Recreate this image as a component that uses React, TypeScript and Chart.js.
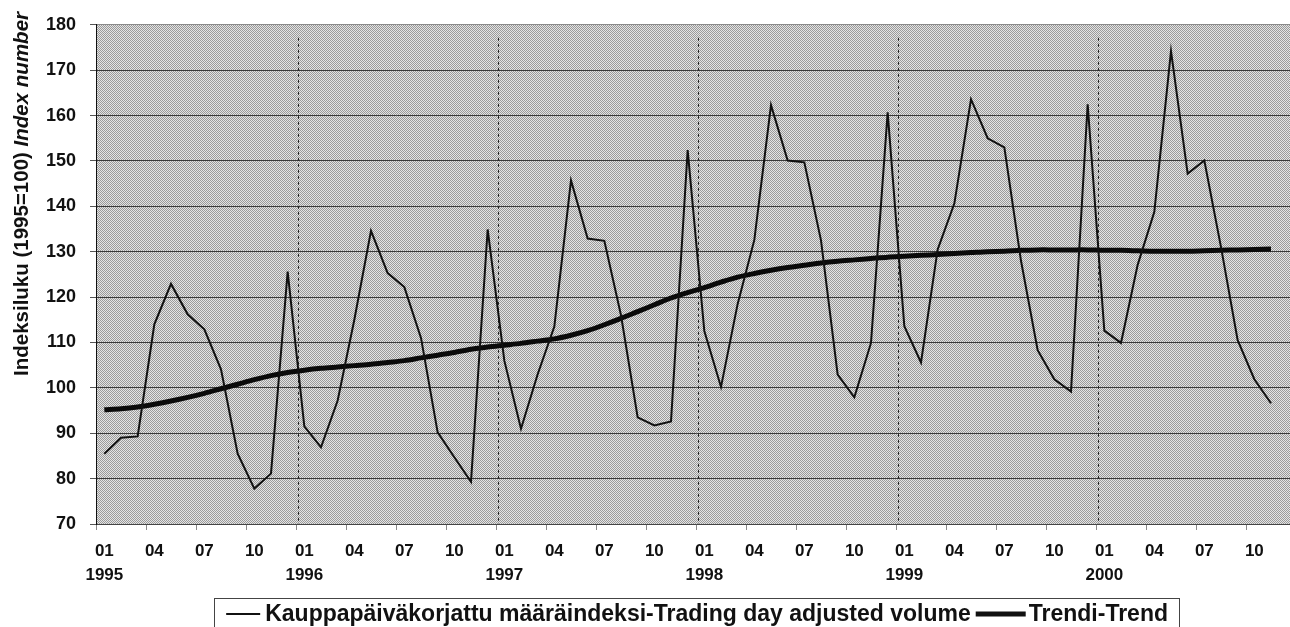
import React, { useEffect, useRef } from 'react';
import { Chart, registerables } from 'chart.js';

Chart.register(...registerables);

const yearLabels = ['1995', '1996', '1997', '1998', '1999', '2000'];
const monthLabels = ['01', '02', '03', '04', '05', '06', '07', '08', '09', '10', '11', '12'];

const volumeIndex = [
  85.5, 89.0, 89.3, 114.0, 122.9, 116.2, 112.9, 104.1, 85.5, 77.8, 81.1, 125.6,
  91.5, 86.9, 97.2, 115.0, 134.6, 125.3, 122.2, 111.0, 90.2, 84.7, 79.3, 134.9,
  106.0, 91.0, 103.0, 113.5, 145.7, 132.9, 132.4, 116.0, 93.5, 91.7, 92.6, 152.4,
  112.5, 100.2, 118.5, 132.6, 162.3, 150.1, 149.7, 132.5, 102.9, 97.9, 109.9, 160.7,
  113.6, 105.6, 130.5, 140.6, 163.6, 155.0, 153.0, 128.0, 108.3, 101.9, 99.2, 162.5,
  112.6, 109.9, 127.1, 138.8, 174.2, 147.2, 150.1, 131.0, 110.5, 101.9, 96.6,
];

const trendIndex = [
  95.2, 95.4, 95.8, 96.4, 97.1, 97.9, 98.8, 99.8, 100.8, 101.8, 102.7, 103.4,
  103.9, 104.3, 104.6, 104.9, 105.2, 105.6, 106.0, 106.6, 107.2, 107.8, 108.5, 109.0,
  109.4, 109.8, 110.3, 110.8, 111.6, 112.6, 113.9, 115.3, 116.8, 118.3, 119.8, 121.0,
  122.1, 123.3, 124.4, 125.2, 125.9, 126.5, 127.0, 127.5, 127.9, 128.2, 128.5, 128.8,
  129.0, 129.2, 129.4, 129.6, 129.8, 130.0, 130.1, 130.3, 130.4, 130.4, 130.4, 130.4,
  130.3, 130.3, 130.2, 130.1, 130.1, 130.1, 130.2, 130.3, 130.4, 130.5, 130.6,
];

const yMin = 70;
const yMax = 180;
const yStep = 10;

const seriesNames = [
  'Kauppapäiväkorjattu määräindeksi-Trading day adjusted volume',
  'Trendi-Trend',
];
const yTitleMain = 'Indeksiluku (1995=100) ';
const yTitleItalic = 'Index number';

const FONT = '"Liberation Sans", Arial, Helvetica, sans-serif';

const categories = yearLabels.flatMap((y) => monthLabels.map((m) => `${y}-${m}`));

function makePattern(ctx: CanvasRenderingContext2D) {
  const c = document.createElement('canvas');
  c.width = 2;
  c.height = 2;
  const p = c.getContext('2d')!;
  p.fillStyle = '#e4e4e4';
  p.fillRect(0, 0, 2, 2);
  p.fillStyle = '#9a9a9a';
  p.fillRect(0, 0, 1, 1);
  p.fillRect(1, 1, 1, 1);
  return ctx.createPattern(c, 'repeat');
}

const backgroundPlugin = {
  id: 'bgPattern',
  beforeDraw(chart: any) {
    const { ctx, chartArea } = chart;
    ctx.save();
    const pat = makePattern(ctx);
    ctx.fillStyle = pat || '#bfbfbf';
    ctx.fillRect(chartArea.left, chartArea.top, chartArea.right - chartArea.left, chartArea.bottom - chartArea.top);
    ctx.restore();
  },
};

const yearLinesPlugin = {
  id: 'yearLines',
  beforeDatasetsDraw(chart: any) {
    const { ctx, chartArea, scales } = chart;
    const xs = scales.x;
    ctx.save();
    ctx.strokeStyle = '#222';
    ctx.lineWidth = 1;
    ctx.setLineDash([3, 3]);
    for (let k = 1; k < yearLabels.length; k++) {
      const px = Math.round(xs.getPixelForValue(k * 12 - 0.4)) + 0.5;
      ctx.beginPath();
      ctx.moveTo(px, chartArea.top + 13);
      ctx.lineTo(px, chartArea.bottom);
      ctx.stroke();
    }
    ctx.restore();
  },
};

const yTitlePlugin = {
  id: 'yTitle',
  afterDraw(chart: any) {
    const { ctx } = chart;
    const size = 20.5;
    ctx.save();
    ctx.fillStyle = '#111';
    ctx.textBaseline = 'middle';
    ctx.textAlign = 'left';
    ctx.font = `bold ${size}px ${FONT}`;
    const w1 = ctx.measureText(yTitleMain).width;
    ctx.font = `italic bold ${size}px ${FONT}`;
    const w2 = ctx.measureText(yTitleItalic).width;
    ctx.translate(22, 194);
    ctx.rotate(-Math.PI / 2);
    const start = -(w1 + w2) / 2;
    ctx.font = `bold ${size}px ${FONT}`;
    ctx.fillText(yTitleMain, start, 0);
    ctx.font = `italic bold ${size}px ${FONT}`;
    ctx.fillText(yTitleItalic, start + w1, 0);
    ctx.restore();
  },
};

const legendPlugin = {
  id: 'customLegend',
  afterDraw(chart: any) {
    const { ctx, chartArea } = chart;
    const boxW = 965;
    const boxL = Math.round((chartArea.left + chartArea.right) / 2 - boxW / 2);
    const boxT = 598;
    const cy = 614;
    ctx.save();
    ctx.strokeStyle = '#444';
    ctx.lineWidth = 1;
    ctx.strokeRect(boxL + 0.5, boxT + 0.5, boxW, 60);
    ctx.font = `bold 23px ${FONT}`;
    ctx.fillStyle = '#111';
    ctx.textBaseline = 'middle';
    ctx.textAlign = 'left';
    const t1 = ctx.measureText(seriesNames[0]).width;
    const t2 = ctx.measureText(seriesNames[1]).width;
    const s1 = 34, g1 = 5, g2 = 5, s2 = 50, g3 = 3;
    const total = s1 + g1 + t1 + g2 + s2 + g3 + t2;
    let x = boxL + boxW - 11 - total;
    ctx.strokeStyle = '#111';
    ctx.lineWidth = 2;
    ctx.beginPath();
    ctx.moveTo(x, cy);
    ctx.lineTo(x + s1, cy);
    ctx.stroke();
    x += s1 + g1;
    ctx.fillText(seriesNames[0], x, cy + 1);
    x += t1 + g2;
    ctx.lineWidth = 5;
    ctx.beginPath();
    ctx.moveTo(x, cy);
    ctx.lineTo(x + s2, cy);
    ctx.stroke();
    x += s2 + g3;
    ctx.fillText(seriesNames[1], x, cy + 1);
    ctx.restore();
  },
};

export default function App() {
  const canvasRef = useRef<HTMLCanvasElement | null>(null);

  useEffect(() => {
    if (!canvasRef.current) return;
    const chart = new Chart(canvasRef.current, {
      type: 'line',
      data: {
        labels: categories,
        datasets: [
          {
            label: seriesNames[0],
            data: volumeIndex,
            borderColor: '#111',
            borderWidth: 2,
            pointRadius: 0,
            tension: 0,
            fill: false,
          },
          {
            label: seriesNames[1],
            data: trendIndex,
            borderColor: '#0a0a0a',
            borderWidth: 5,
            pointRadius: 0,
            tension: 0.3,
            fill: false,
            borderCapStyle: 'butt',
          },
        ],
      },
      options: {
        animation: false,
        responsive: true,
        maintainAspectRatio: false,
        layout: { padding: { top: 22, right: 4, left: 0, bottom: 0 } },
        plugins: {
          legend: { display: false },
          tooltip: { enabled: false },
          title: { display: false },
        },
        scales: {
          x: {
            type: 'category',
            offset: true,
            afterFit(scale: any) {
              scale.height = 103;
            },
            border: { display: true, color: '#444', width: 1 },
            grid: {
              offset: true,
              drawOnChartArea: false,
              drawTicks: true,
              tickLength: 6,
              color: (c: any) => (c.index % 3 === 0 ? '#888' : 'rgba(0,0,0,0)'),
              tickColor: (c: any) => (c.index % 3 === 0 ? '#888' : 'rgba(0,0,0,0)'),
            },
            ticks: {
              autoSkip: false,
              maxRotation: 0,
              minRotation: 0,
              padding: 9,
              color: '#111',
              font: { family: FONT, size: 17, weight: 'bold', lineHeight: 1.41 },
              callback: (_v: any, i: number) => {
                if (i % 3 !== 0) return '';
                const m = monthLabels[i % 12];
                if (i % 12 === 0) return [m, yearLabels[Math.floor(i / 12)]];
                return m;
              },
            },
          },
          y: {
            min: yMin,
            max: yMax,
            afterFit(scale: any) {
              scale.width = 96;
            },
            border: { display: true, color: '#111', width: 1 },
            grid: {
              color: (c: any) => (c.tick && c.tick.value === yMax ? '#8a8a8a' : '#3a3a3a'),
              lineWidth: 1,
              drawTicks: true,
              tickLength: 6,
              tickColor: '#555',
            },
            ticks: {
              stepSize: yStep,
              padding: 14,
              color: '#111',
              font: { family: FONT, size: 18, weight: 'bold' },
            },
          },
        },
      },
      plugins: [backgroundPlugin, yearLinesPlugin, yTitlePlugin, legendPlugin],
    } as any);
    return () => chart.destroy();
  }, []);

  return (
    <div style={{ position: 'fixed', left: 0, top: 0, width: 1290, height: 627, overflow: 'hidden', background: '#fff' }}>
      <div style={{ position: 'relative', width: 1300, height: 627 }}>
        <canvas ref={canvasRef} />
      </div>
    </div>
  );
}
